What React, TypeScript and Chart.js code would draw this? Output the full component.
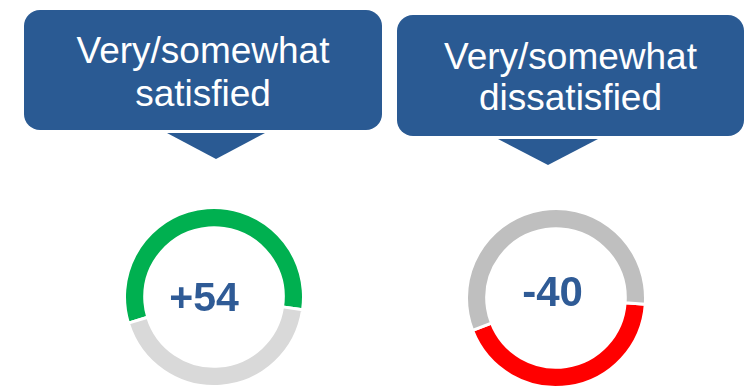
import React, { useEffect, useRef } from "react";
import { Chart, registerables } from "chart.js";

Chart.register(...registerables);

// Data
const panelTitles = ["Very/somewhat satisfied", "Very/somewhat dissatisfied"];
const titleLines1 = ["Very/somewhat", "satisfied"];
const titleLines2 = ["Very/somewhat", "dissatisfied"];
const netScores = ["+54", "-40"];
const satisfiedSegments = ["Very/somewhat satisfied", "Rest"];
const satisfiedValues = [57, 43];
const satisfiedColors = ["#00B050", "#D9D9D9"];
const dissatisfiedSegments = ["Very/somewhat dissatisfied", "Rest"];
const dissatisfiedValues = [43, 57];
const dissatisfiedColors = ["#FF0000", "#BFBFBF"];

const FONT = "'Liberation Sans', Arial, sans-serif";
const BLUE = "#2A5A93";

function Ring(props: {
  labels: string[];
  values: number[];
  colors: string[];
  rotation: number;
  left: number;
  top: number;
  size: number;
}) {
  const ref = useRef<HTMLCanvasElement | null>(null);
  useEffect(() => {
    if (!ref.current) return;
    const chart = new Chart(ref.current, {
      type: "doughnut",
      data: {
        labels: props.labels,
        datasets: [
          {
            data: props.values,
            backgroundColor: props.colors,
            borderColor: "#FFFFFF",
            borderWidth: 3,
            hoverOffset: 0,
            offset: 0,
          },
        ],
      },
      options: {
        responsive: false,
        animation: false,
        rotation: props.rotation,
        radius: 89.5,
        cutout: 68.5,
        layout: { padding: 0 },
        plugins: { legend: { display: false }, tooltip: { enabled: false } },
        events: [],
      },
    });
    return () => chart.destroy();
  }, []);
  return (
    <canvas
      ref={ref}
      width={props.size}
      height={props.size}
      style={{ position: "absolute", left: props.left, top: props.top, width: props.size, height: props.size }}
    />
  );
}

function Callout(props: {
  lines: string[];
  left: number;
  top: number;
  width: number;
  height: number;
  triLeft: number;
  triTop: number;
  triWidth: number;
  triHeight: number;
  lineHeight: number;
}) {
  return (
    <>
      <div
        style={{
          position: "absolute",
          left: props.left,
          top: props.top,
          width: props.width,
          height: props.height,
          background: BLUE,
          borderRadius: 16,
          display: "flex",
          flexDirection: "column",
          alignItems: "center",
          justifyContent: "center",
          color: "#FFFFFF",
          fontFamily: FONT,
          fontSize: 37,
          lineHeight: props.lineHeight + "px",
          paddingTop: 3,
          boxSizing: "border-box",
        }}
      >
        {props.lines.map((l, i) => (
          <div key={i}>{l}</div>
        ))}
      </div>
      <div
        style={{
          position: "absolute",
          left: props.triLeft,
          top: props.triTop,
          width: 0,
          height: 0,
          borderLeft: props.triWidth / 2 + "px solid transparent",
          borderRight: props.triWidth / 2 + "px solid transparent",
          borderTop: props.triHeight + "px solid " + BLUE,
        }}
      />
    </>
  );
}

function CenterText(props: { text: string; cx: number; capCy: number; size: number }) {
  return (
    <div
      style={{
        position: "absolute",
        left: props.cx - 80,
        width: 160,
        top: props.capCy - props.size * 0.4885,
        textAlign: "center",
        fontFamily: FONT,
        fontWeight: "bold",
        fontSize: props.size,
        lineHeight: props.size + "px",
        color: "#2F5B96",
      }}
    >
      {props.text}
    </div>
  );
}

export default function App() {
  useEffect(() => {
    document.body.style.margin = "0";
  }, []);
  return (
    <div
      style={{ position: "relative", width: 756, height: 389, overflow: "hidden", background: "#FFFFFF" }}
      title={panelTitles.join(" / ")}
    >
      <Callout
        lines={titleLines1}
        left={24}
        top={10}
        width={358}
        height={120}
        triLeft={167}
        triTop={133}
        triWidth={98}
        triHeight={26}
        lineHeight={43}
      />
      <Callout
        lines={titleLines2}
        left={397}
        top={15}
        width={347}
        height={121}
        triLeft={498}
        triTop={139}
        triWidth={100}
        triHeight={26}
        lineHeight={41}
      />
      <Ring
        labels={satisfiedSegments}
        values={satisfiedValues}
        colors={satisfiedColors}
        rotation={253}
        left={213.5 - 90}
        top={296.5 - 90}
        size={180}
      />
      <Ring
        labels={dissatisfiedSegments}
        values={dissatisfiedValues}
        colors={dissatisfiedColors}
        rotation={94}
        left={556 - 90}
        top={297.5 - 90}
        size={180}
      />
      <CenterText text={netScores[0]} cx={204} capCy={297} size={41} />
      <CenterText text={netScores[1]} cx={552.5} capCy={292} size={42} />
    </div>
  );
}
